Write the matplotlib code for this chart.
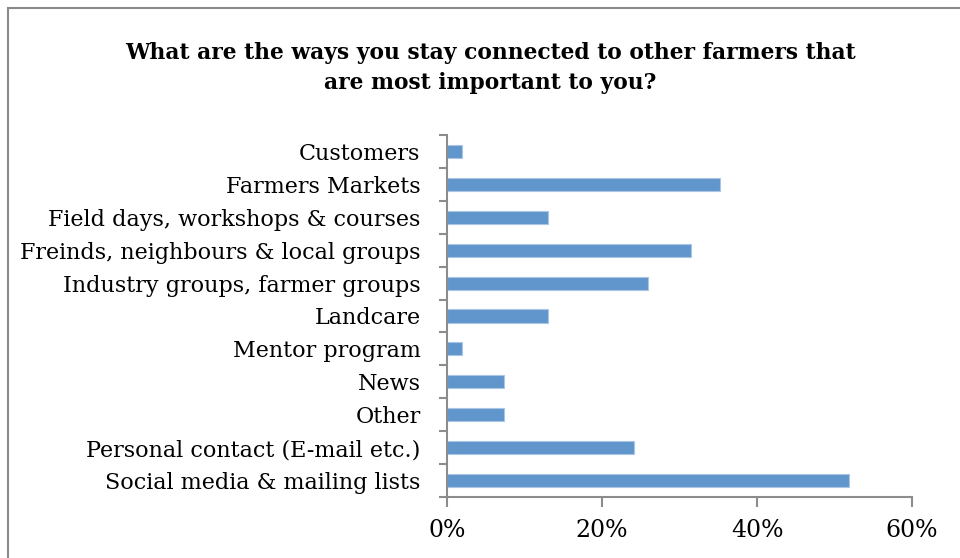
import matplotlib
matplotlib.use("Agg")
import matplotlib.pyplot as plt
from matplotlib.patches import Rectangle
from matplotlib.ticker import FuncFormatter

# survey answers, top to bottom
categories = [
    "Customers",
    "Farmers Markets",
    "Field days, workshops & courses",
    "Freinds, neighbours & local groups",
    "Industry groups, farmer groups",
    "Landcare",
    "Mentor program",
    "News",
    "Other",
    "Personal contact (E-mail etc.)",
    "Social media & mailing lists",
]
shares = [1.9, 35.2, 13.0, 31.5, 25.9, 13.0, 1.9, 7.4, 7.4, 24.1, 51.9]
x_ticks = [0, 20, 40, 60]

plt.rcParams['font.family'] = ['DejaVu Serif']
BAR = '#6096cb'
AXIS = '#8c8c8c'

fig = plt.figure(figsize=(9.6, 5.58), dpi=100)
W, H = 960, 558

# outer chart border
fig.patches.append(Rectangle((8 / W, -0.1), 1.2, (H - 8) / H + 0.1,
                             transform=fig.transFigure, fill=False,
                             edgecolor='#8a8a8a', linewidth=1.5))

ax = fig.add_axes([447 / W, 1 - 497 / H, (912 - 447) / W, (497 - 135) / H])
y = range(len(categories))
ax.barh(y, shares, height=0.4, color=BAR, edgecolor='#a9c6e6', linewidth=0.8)

ax.set_xlim(0, 60)
ax.set_ylim(len(categories) - 0.5, -0.5)
ax.set_xticks(x_ticks)
ax.xaxis.set_major_formatter(FuncFormatter(lambda v, p: f"{v:.0f}%"))
ax.set_yticks(list(y))
ax.set_yticklabels(categories)
ax.set_yticks([i - 0.5 for i in range(len(categories) + 1)], minor=True)

ax.tick_params(axis='y', which='major', length=0, pad=19, labelsize=16)
ax.tick_params(axis='y', which='minor', length=6, width=1.5, color=AXIS, direction='out')
ax.tick_params(axis='x', length=7, width=1.5, color=AXIS, pad=9, labelsize=17)

for s in ['top', 'right']:
    ax.spines[s].set_visible(False)
for s in ['left', 'bottom']:
    ax.spines[s].set_color(AXIS)
    ax.spines[s].set_linewidth(1.5)

fig.text(490 / W, 1 - 68 / H,
         "What are the ways you stay connected to other farmers that\nare most important to you?",
         ha='center', va='center', fontsize=15.7, fontweight='bold', linespacing=1.5)

fig.savefig("out.png", dpi=100)
